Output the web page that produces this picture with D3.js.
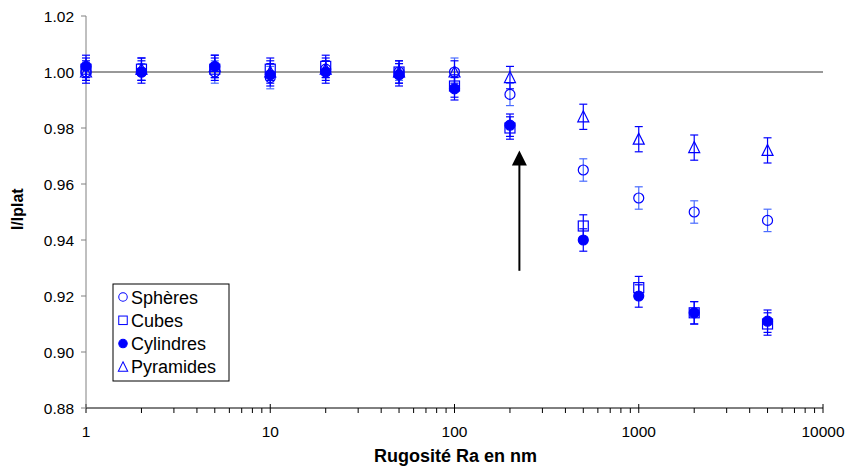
<!DOCTYPE html>
<html>
<head>
<meta charset="utf-8">
<script src="https://cdn.jsdelivr.net/npm/d3@7"></script>
<style>
  body { margin: 0; background: #fff; }
  svg { font-family: "Liberation Sans", Arial, sans-serif; }
</style>
</head>
<body>
<svg id="chart" width="848" height="469"></svg>
<script>
// roughness values (nm)
var rugosite = [1, 2, 5, 10, 20, 50, 100, 200, 500, 1000, 2000, 5000];

var spheres    = [1.000, 1.000, 1.000, 0.998, 1.001, 1.000, 1.000, 0.992, 0.965, 0.955, 0.950, 0.947];
var cubes      = [1.001, 1.001, 1.001, 1.001, 1.002, 1.000, 0.995, 0.980, 0.945, 0.923, 0.914, 0.910];
var cylindres  = [1.002, 1.000, 1.002, 0.999, 1.000, 0.999, 0.994, 0.981, 0.940, 0.920, 0.914, 0.911];
var pyramides  = [1.000, 1.001, 1.002, 1.000, 1.001, 1.000, 1.000, 0.998, 0.984, 0.976, 0.973, 0.972];

var errSpheres   = [0.003, 0.003, 0.004, 0.004, 0.003, 0.003, 0.005, 0.004, 0.004, 0.004, 0.004, 0.004];
var errCubes     = [0.004, 0.004, 0.004, 0.004, 0.004, 0.004, 0.004, 0.004, 0.004, 0.004, 0.004, 0.004];
var errCylindres = [0.004, 0.004, 0.004, 0.004, 0.004, 0.004, 0.004, 0.004, 0.004, 0.004, 0.004, 0.004];
var errPyramides = [0.004, 0.004, 0.004, 0.004, 0.004, 0.004, 0.004, 0.004, 0.0045, 0.0045, 0.0045, 0.0045];

var yTicks = [0.88, 0.90, 0.92, 0.94, 0.96, 0.98, 1.00, 1.02];
var xTicks = [1, 10, 100, 1000, 10000];

// arrow annotation (data coords)
var arrowX = 225, arrowFrom = 0.929, arrowTo = 0.972;

var series = [
  { name: 'Sphères',   values: spheres,   err: errSpheres,   shape: 'circle',   filled: false, errColor: '#4a6cff' },
  { name: 'Cubes',     values: cubes,     err: errCubes,     shape: 'square',   filled: false, errColor: '#0000ff' },
  { name: 'Cylindres', values: cylindres, err: errCylindres, shape: 'circle',   filled: true,  errColor: '#0000ff' },
  { name: 'Pyramides', values: pyramides, err: errPyramides, shape: 'triangle', filled: false, errColor: '#0000ff' }
];

var margin = { left: 86, top: 16, right: 25, bottom: 61 };
var svg = d3.select('#chart');
var width = +svg.attr('width') - margin.left - margin.right;
var height = +svg.attr('height') - margin.top - margin.bottom;

var x = d3.scaleLog().domain([1, 10000]).range([0, width]);
var y = d3.scaleLinear().domain([0.88, 1.02]).range([height, 0]);

var g = svg.append('g').attr('transform', 'translate(' + margin.left + ',' + margin.top + ')');

// reference line at 1.00
g.append('line')
  .attr('x1', 0).attr('x2', width)
  .attr('y1', y(1)).attr('y2', y(1))
  .attr('stroke', '#333').attr('stroke-width', 1);

// x axis with minor ticks
var minor = [];
for (var d = 1; d < 10000; d *= 10) {
  for (var k = 2; k <= 9; k++) minor.push(d * k);
}
var xAxis = g.append('g').attr('transform', 'translate(0,' + height + ')');
xAxis.append('line').attr('x1', 0).attr('x2', width).attr('stroke', '#000');
xAxis.selectAll('.minor').data(minor).enter().append('line')
  .attr('x1', x).attr('x2', x).attr('y1', 0).attr('y2', 5).attr('stroke', '#000');
xAxis.selectAll('.major').data(xTicks).enter().append('line')
  .attr('x1', x).attr('x2', x).attr('y1', -4).attr('y2', 5).attr('stroke', '#000');
xAxis.selectAll('text').data(xTicks).enter().append('text')
  .attr('x', x).attr('y', 29)
  .attr('text-anchor', 'middle')
  .attr('font-size', 15.5)
  .text(function(d) { return d; });

// y axis
var yAxis = g.append('g');
yAxis.append('line').attr('y1', 0).attr('y2', height).attr('stroke', '#808080');
yAxis.selectAll('.tick').data(yTicks).enter().append('line')
  .attr('x1', -5).attr('x2', 0)
  .attr('y1', y).attr('y2', y)
  .attr('stroke', '#808080');
yAxis.selectAll('text').data(yTicks).enter().append('text')
  .attr('x', -12).attr('y', function(d) { return y(d) + 5.5; })
  .attr('text-anchor', 'end')
  .attr('font-size', 15.5)
  .text(function(d) { return d3.format('.2f')(d); });

// axis titles
svg.append('text')
  .attr('x', margin.left + x(100) + 1).attr('y', 462)
  .attr('text-anchor', 'middle')
  .attr('font-size', 18).attr('font-weight', 'bold')
  .text('Rugosité Ra en nm');
svg.append('text')
  .attr('transform', 'translate(23,' + (margin.top + y(0.951)) + ') rotate(-90)')
  .attr('text-anchor', 'middle')
  .attr('font-size', 16).attr('font-weight', 'bold')
  .text('I/Iplat');

function drawMarker(sel, s) {
  if (s.shape === 'circle') {
    sel.append('circle').attr('r', 5);
  } else if (s.shape === 'square') {
    sel.append('rect').attr('x', -5).attr('y', -5).attr('width', 10).attr('height', 10);
  } else {
    sel.append('path').attr('d', 'M0,-6L5.5,5L-5.5,5Z');
  }
  sel.selectAll('*')
    .attr('fill', s.filled ? '#0000ff' : 'none')
    .attr('stroke', '#0000ff')
    .attr('stroke-width', 1.2);
}

// series: error bars + markers
series.forEach(function(s) {
  var pts = rugosite.map(function(r, i) { return { r: r, v: s.values[i], e: s.err[i] }; });
  var sg = g.append('g');
  var eb = sg.selectAll('.err').data(pts).enter().append('g')
    .attr('stroke', s.errColor).attr('stroke-width', 1.2);
  eb.append('line')
    .attr('x1', function(d) { return x(d.r); }).attr('x2', function(d) { return x(d.r); })
    .attr('y1', function(d) { return y(d.v - d.e); }).attr('y2', function(d) { return y(d.v + d.e); });
  [-1, 1].forEach(function(sign) {
    eb.append('line')
      .attr('x1', function(d) { return x(d.r) - 4; }).attr('x2', function(d) { return x(d.r) + 4; })
      .attr('y1', function(d) { return y(d.v + sign * d.e); }).attr('y2', function(d) { return y(d.v + sign * d.e); });
  });
  sg.selectAll('.pt').data(pts).enter().append('g')
    .attr('transform', function(d) { return 'translate(' + x(d.r) + ',' + y(d.v) + ')'; })
    .each(function() { drawMarker(d3.select(this), s); });
});

// arrow
var ax = x(arrowX);
g.append('line')
  .attr('x1', ax).attr('x2', ax)
  .attr('y1', y(arrowFrom)).attr('y2', y(arrowTo) + 14)
  .attr('stroke', '#000').attr('stroke-width', 2);
g.append('path')
  .attr('d', 'M' + ax + ',' + y(arrowTo) + 'l7.5,15l-15,0Z')
  .attr('fill', '#000');

// legend
var legend = svg.append('g').attr('transform', 'translate(113,284)');
legend.append('rect')
  .attr('width', 116).attr('height', 97)
  .attr('fill', '#fff').attr('stroke', '#000').attr('stroke-width', 1);
series.forEach(function(s, i) {
  var row = legend.append('g').attr('transform', 'translate(10,' + (13 + i * 23.3) + ')');
  var m = row.append('g').attr('transform', 'scale(0.85)');
  drawMarker(m, s);
  row.append('text')
    .attr('x', 8).attr('y', 6.5)
    .attr('font-size', 18)
    .text(s.name);
});
</script>
</body>
</html>
